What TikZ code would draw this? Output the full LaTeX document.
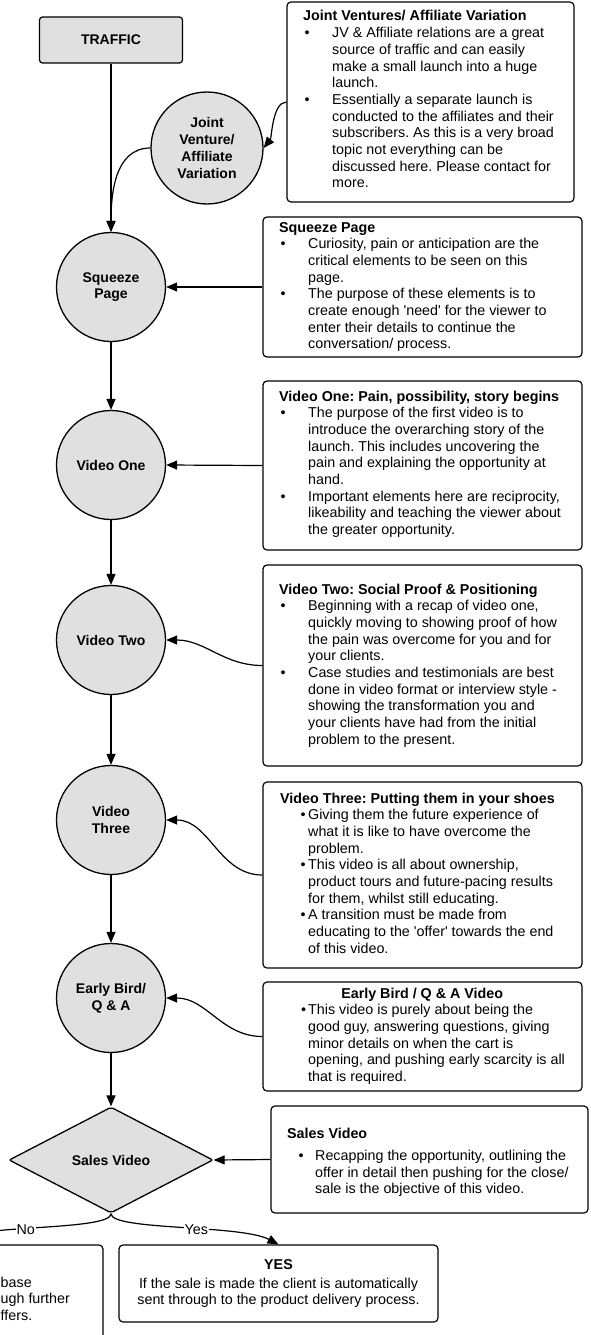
\documentclass[tikz,border=0pt]{standalone}
\usepackage{fontspec}
\setmainfont{Liberation Sans}
\usetikzlibrary{arrows.meta,shapes.geometric}
\definecolor{nodegray}{RGB}{224,224,224}
\newcommand{\bul}[2]{\makebox[#2][l]{\hspace*{#1}\textbullet}}
\newcommand{\ind}[1]{\makebox[#1]{}}
\newcommand{\q}{\textquotesingle}
\begin{document}
\begin{tikzpicture}[x=1pt,y=1pt,
  font=\fontsize{14.3}{16.67}\selectfont\frenchspacing,
  conn/.style={line width=1.2pt,-{Triangle[length=11pt,width=9pt]}},
  stage/.style={circle,draw,line width=1.3pt,fill=nodegray,minimum size=109pt,inner sep=0pt,align=center,font=\fontsize{14}{16.67}\selectfont\bfseries},
  infobox/.style={draw,line width=1.2pt,rounded corners=4pt,fill=white,inner sep=0pt},
  infotext/.style={inner sep=0pt,anchor=base west},
  lbl/.style={fill=white,inner sep=1pt}]
\useasboundingbox (0,0) rectangle (590,-1335);
\clip (0,0) rectangle (590,-1335);
\fill[white] (0,0) rectangle (590,-1335);

% left column
\node[draw,line width=1.2pt,rounded corners=3pt,fill=nodegray,minimum width=143pt,minimum height=46pt,inner sep=0pt,font=\fontsize{14}{16.67}\selectfont\bfseries] (traffic) at (111,-40) {TRAFFIC};
\node[stage,minimum size=112pt] (jv) at (207,-148) {Joint\\Venture/\\Affiliate\\Variation};
\node[stage] (sq) at (111,-287) {Squeeze\\Page};
\node[stage] (v1) at (111,-465) {Video One};
\node[stage] (v2) at (111,-640) {Video Two};
\node[stage] (v3) at (111,-820) {Video\\Three};
\node[stage] (eb) at (111,-998) {Early Bird/\\Q \& A};
\node[diamond,draw,line width=1.3pt,fill=nodegray,minimum width=204pt,minimum height=106pt,inner sep=0pt,rounded corners=2pt,font=\fontsize{14}{16.67}\selectfont\bfseries] (sales) at (111,-1160) {Sales Video};

% right column boxes
\node[infobox,minimum width=287pt,minimum height=200pt] (jvbox) at (430.5,-102) {};
\node[infotext] (jvtext) at (303,-21) {\begin{tabular}[t]{@{}l@{}}
\textbf{Joint Ventures/ Affiliate Variation}\\
\bul{1.5pt}{29pt}JV \& Affiliate relations are a great\\
\ind{29pt}source of traffic and can easily\\
\ind{29pt}make a small launch into a huge\\
\ind{29pt}launch.\\
\bul{1.5pt}{29pt}Essentially a separate launch is\\
\ind{29pt}conducted to the affiliates and their\\
\ind{29pt}subscribers. As this is a very broad\\
\ind{29pt}topic not everything can be\\
\ind{29pt}discussed here. Please contact for\\
\ind{29pt}more.
\end{tabular}};

\node[infobox,minimum width=319pt,minimum height=140pt] (sqbox) at (422.5,-287) {};
\node[infotext] (sqtext) at (279,-232) {\begin{tabular}[t]{@{}l@{}}
\textbf{Squeeze Page}\\
\bul{1.5pt}{29pt}Curiosity, pain or anticipation are the\\
\ind{29pt}critical elements to be seen on this\\
\ind{29pt}page.\\
\bul{1.5pt}{29pt}The purpose of these elements is to\\
\ind{29pt}create enough \q need\q{} for the viewer to\\
\ind{29pt}enter their details to continue the\\
\ind{29pt}conversation/ process.
\end{tabular}};

\node[infobox,minimum width=319pt,minimum height=169pt] (v1box) at (422.5,-465.5) {};
\node[infotext] (v1text) at (279,-401) {\begin{tabular}[t]{@{}l@{}}
\textbf{Video One: Pain, possibility, story begins}\\
\bul{1.5pt}{29pt}The purpose of the first video is to\\
\ind{29pt}introduce the overarching story of the\\
\ind{29pt}launch. This includes uncovering the\\
\ind{29pt}pain and explaining the opportunity at\\
\ind{29pt}hand.\\
\bul{1.5pt}{29pt}Important elements here are reciprocity,\\
\ind{29pt}likeability and teaching the viewer about\\
\ind{29pt}the greater opportunity.
\end{tabular}};

\node[infobox,minimum width=319pt,minimum height=201pt] (v2box) at (422.5,-665.5) {};
\node[infotext] (v2text) at (279,-594) {\begin{tabular}[t]{@{}l@{}}
\textbf{Video Two: Social Proof \& Positioning}\\
\bul{1.5pt}{29pt}Beginning with a recap of video one,\\
\ind{29pt}quickly moving to showing proof of how\\
\ind{29pt}the pain was overcome for you and for\\
\ind{29pt}your clients.\\
\bul{1.5pt}{29pt}Case studies and testimonials are best\\
\ind{29pt}done in video format or interview style -\\
\ind{29pt}showing the transformation you and\\
\ind{29pt}your clients have had from the initial\\
\ind{29pt}problem to the present.
\end{tabular}};

\node[infobox,minimum width=319pt,minimum height=186pt] (v3box) at (422.5,-875) {};
\node[infotext] (v3text) at (280,-803) {\begin{tabular}[t]{@{}l@{}}
\textbf{Video Three: Putting them in your shoes}\\
\bul{20.5pt}{28pt}Giving them the future experience of\\
\ind{28pt}what it is like to have overcome the\\
\ind{28pt}problem.\\
\bul{20.5pt}{28pt}This video is all about ownership,\\
\ind{28pt}product tours and future-pacing results\\
\ind{28pt}for them, whilst still educating.\\
\bul{20.5pt}{28pt}A transition must be made from\\
\ind{28pt}educating to the \q offer\q{} towards the end\\
\ind{28pt}of this video.
\end{tabular}};

\node[infobox,minimum width=319pt,minimum height=109pt] (ebbox) at (422.5,-1036.5) {};
\node[infotext] (ebtext) at (280,-998) {\begin{tabular}[t]{@{}l@{}}
\makebox[284pt][c]{\textbf{Early Bird / Q \& A Video}}\\
\bul{21pt}{28pt}This video is purely about being the\\
\ind{28pt}good guy, answering questions, giving\\
\ind{28pt}minor details on when the cart is\\
\ind{28pt}opening, and pushing early scarcity is all\\
\ind{28pt}that is required.
\end{tabular}};

\node[infobox,minimum width=317pt,minimum height=107pt] (salesbox) at (429.5,-1159.5) {};
\node[infotext] (salestext) at (287,-1138) {\begin{tabular}[t]{@{}l@{}}
\textbf{Sales Video}\\[5.9pt]
\bul{11.5pt}{28pt}Recapping the opportunity, outlining the\\
\ind{28pt}offer in detail then pushing for the close/\\
\ind{28pt}sale is the objective of this video.
\end{tabular}};

% bottom boxes
\node[infobox,minimum width=319pt,minimum height=77pt,align=center] (yesbox) at (278.5,-1283.5) {\textbf{YES}\\[2.3pt]If the sale is made the client is automatically\\sent through to the product delivery process.};
\node[infobox,minimum width=319pt,minimum height=105pt] (nobox) at (-56.5,-1297.5) {};
\node[inner sep=0pt,anchor=base west] (nol1) at (0.5,-1287) {base};
\node[inner sep=0pt,anchor=base west] (nol2) at (0.5,-1303) {ugh further};
\node[inner sep=0pt,anchor=base west] (nol3) at (0.5,-1320) {ffers.};

% connectors
\draw[conn] (traffic.south) -- (sq.north);
\draw[conn] (jv.west) to[out=180,in=90] (sq.north);
\draw[conn] (jvbox.west) .. controls +(-14,0) and +(8,10) .. (jv.east);
\draw[conn] (sqbox.west) -- (sq.east);
\draw[conn] (v1box.west) -- (v1.east);
\draw[conn] (v2box.west) to[out=180,in=0] (v2.east);
\draw[conn] (v3box.west) to[out=180,in=0] (v3.east);
\draw[conn] (ebbox.west) to[out=180,in=0] (eb.east);
\draw[conn] (salesbox.west) -- (sales.east);
\draw[conn] (sq.south) -- (v1.north);
\draw[conn] (v1.south) -- (v2.north);
\draw[conn] (v2.south) -- (v3.north);
\draw[conn] (v3.south) -- (eb.north);
\draw[conn] (eb.south) -- (sales.north);
\draw[conn] (sales.south) .. controls +(0,-17) and +(-38,20) .. (yesbox.north) node[lbl,pos=0.57] (yeslbl) {Yes};
\draw[conn] (sales.south) .. controls +(0,-17) and +(38,20) .. (nobox.north) node[lbl,pos=0.57] (nolbl) {No};
\end{tikzpicture}
\end{document}
